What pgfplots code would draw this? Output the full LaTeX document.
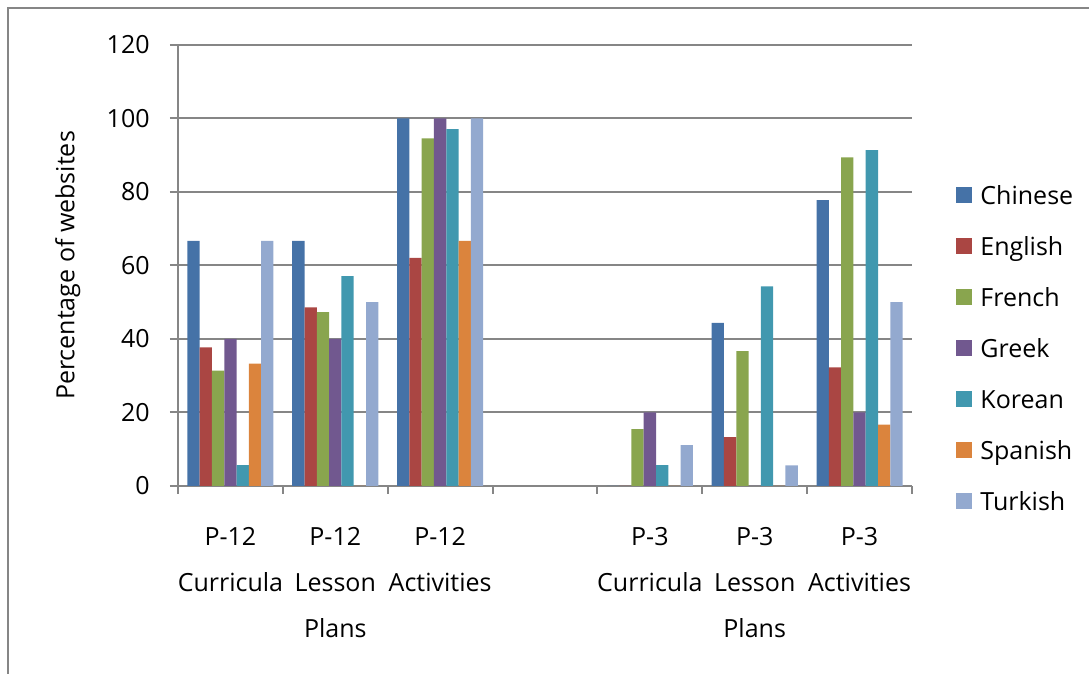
\documentclass[border=0pt]{standalone}
\usepackage{fontspec}
\setmainfont{Open Sans}
\usepackage{pgfplots}
\pgfplotsset{compat=1.18}
\definecolor{cChinese}{HTML}{4572A7}
\definecolor{cEnglish}{HTML}{AA4643}
\definecolor{cFrench}{HTML}{89A54E}
\definecolor{cGreek}{HTML}{71588F}
\definecolor{cKorean}{HTML}{4198AF}
\definecolor{cSpanish}{HTML}{DB843D}
\definecolor{cTurkish}{HTML}{93A9CF}
\definecolor{gridgray}{HTML}{868686}
\begin{document}
\fontsize{12.5}{15}\selectfont
\begin{tikzpicture}[x=1pt,y=1pt]
\useasboundingbox (0,0) rectangle (544.5,337);
\draw[color=gridgray, line width=0.75pt] (4,0) -- (4,333) -- (544.5,333);
\begin{axis}[
  at={(89pt,94pt)}, anchor=south west,
  scale only axis, width=367pt, height=220.5pt,
  xmin=-0.5, xmax=6.5, ymin=0, ymax=120,
  ytick={0,20,...,120},
  xtick={-0.5,0.5,1.5,2.5,3.5,4.5,5.5,6.5},
  xticklabels={,,,,,,,,},
  extra x ticks={0,1,2,4,5,6},
  extra x tick labels={{P-12\\Curricula},{P-12\\Lesson\\Plans},{P-12\\Activities},{P-3\\Curricula},{P-3\\Lesson\\Plans},{P-3\\Activities}},
  extra x tick style={tick style={draw=none}, xticklabel style={align=center, inner sep=0pt, yshift=-16.5pt, font=\fontsize{12.5}{23}\selectfont}},
  axis x line=bottom, axis y line=left,
  axis line style={-, draw=gridgray, line width=1pt},
  tick align=outside, major tick length=4pt,
  tick style={draw=gridgray, line width=1pt},
  ymajorgrids, major grid style={draw=gridgray, line width=1pt},
  /pgf/number format/assume math mode=true,
  yticklabel style={inner sep=0pt, xshift=-10pt},
  every axis y label/.style={at={(axis description cs:-0.150,0.5)}, rotate=90, anchor=center},
  ylabel={Percentage of websites},
  ybar=0pt, bar width=6.15pt,
  legend style={at={(axis description cs:1.060,0.304)}, anchor=west, draw=none, fill=none, inner sep=0pt, row sep=9.5pt, column sep=2pt,
    nodes={text height=9pt, text depth=3pt, inner sep=2pt}},
  legend cell align=left,
  legend image code/.code={\fill[#1, draw=none] (0pt,-2pt) rectangle (8pt,6pt);},
]
\addplot[fill=cChinese, draw=none] coordinates {(0,66.7) (1,66.7) (2,100) (4,0) (5,44.4) (6,77.8)};
\addplot[fill=cEnglish, draw=none] coordinates {(0,37.7) (1,48.6) (2,62.1) (4,0) (5,13.3) (6,32.3)};
\addplot[fill=cFrench, draw=none] coordinates {(0,31.4) (1,47.3) (2,94.6) (4,15.5) (5,36.7) (6,89.4)};
\addplot[fill=cGreek, draw=none] coordinates {(0,40) (1,40) (2,100) (4,20) (5,0) (6,20)};
\addplot[fill=cKorean, draw=none] coordinates {(0,5.7) (1,57.1) (2,97.1) (4,5.7) (5,54.3) (6,91.4)};
\addplot[fill=cSpanish, draw=none] coordinates {(0,33.3) (1,0) (2,66.7) (4,0) (5,0) (6,16.7)};
\addplot[fill=cTurkish, draw=none] coordinates {(0,66.7) (1,50) (2,100) (4,11.1) (5,5.6) (6,50)};
\legend{Chinese,English,French,Greek,Korean,Spanish,Turkish}
\end{axis}
\end{tikzpicture}
\end{document}
